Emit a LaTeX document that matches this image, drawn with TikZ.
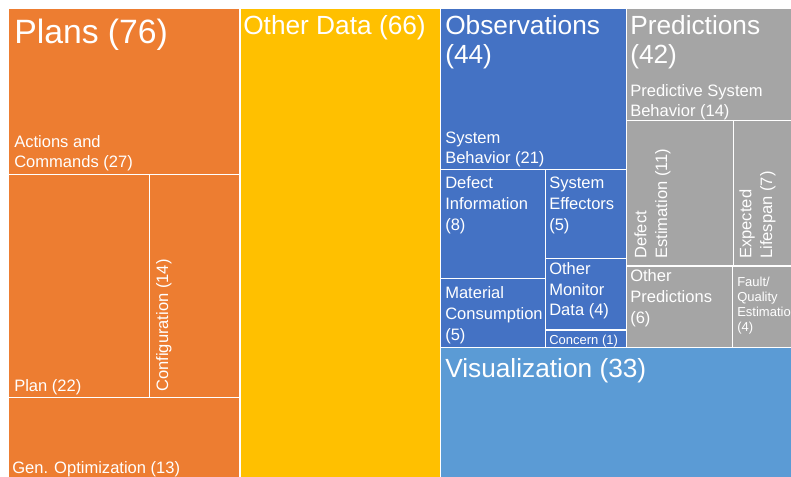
\documentclass[tikz,border=0pt]{standalone}
\usepackage{fontspec}
\setmainfont{Liberation Sans}
\definecolor{plansorange}{HTML}{ED7D31}
\definecolor{otheryellow}{HTML}{FFC000}
\definecolor{obsblue}{HTML}{4472C4}
\definecolor{predgray}{HTML}{A5A5A5}
\definecolor{visblue}{HTML}{5B9BD5}

\begin{document}
\begin{tikzpicture}[x=0.75pt,y=-0.75pt,
		cell/.style={draw=white, line width=1.1pt},
		every node/.style={text=white,
			inner sep=0pt,
			anchor=base west,
			align=left,
		},
		biglabel/.style={font=\fontsize{25.3}{30}\selectfont},
		toplabel/.style={font=\fontsize{19.7}{21.75}\selectfont},
		sublabel/.style={font=\fontsize{12.4}{15.5}\selectfont},
		smalllabel/.style={font=\fontsize{9.75}{11.25}\selectfont},
		]

		\useasboundingbox (0,0) rectangle (791,477);
		\fill[white] (0,0) rectangle (791,477);

		% Plans
		\filldraw[plansorange, cell] (8,8) rectangle (240,174.5);
		\filldraw[plansorange, cell] (8,174.5) rectangle (149.5,397.5);
		\filldraw[plansorange, cell] (149.5,174.5) rectangle (240,397.5);
		\filldraw[plansorange, cell] (8,397.5) rectangle (240,490);
		% Other Data
		\filldraw[otheryellow, cell] (240,8) rectangle (440.5,490);
		% Observations
		\filldraw[obsblue, cell] (440.5,8) rectangle (626.5,169.5);
		\filldraw[obsblue, cell] (440.5,169.5) rectangle (545.5,278.5);
		\filldraw[obsblue, cell] (440.5,278.5) rectangle (545.5,347.5);
		\filldraw[obsblue, cell] (545.5,169.5) rectangle (626.5,258.5);
		\filldraw[obsblue, cell] (545.5,258.5) rectangle (626.5,330);
		\filldraw[obsblue, cell] (545.5,330) rectangle (626.5,347.5);
		% Predictions
		\filldraw[predgray, cell] (626.5,8) rectangle (800,120.5);
		\filldraw[predgray, cell] (626.5,120.5) rectangle (733.5,266);
		\filldraw[predgray, cell] (733.5,120.5) rectangle (800,266);
		\filldraw[predgray, cell] (626.5,266) rectangle (732.5,347.5);
		\filldraw[predgray, cell] (732.5,266) rectangle (800,347.5);
		% Visualization
		\filldraw[visblue, cell] (440.5,347.5) rectangle (800,490);

		% labels sit on the baseline of their last line
		\node (plans) [biglabel] at (14,43.3) {Plans (76)};
		\node (actions) [sublabel] at (14,168) {Actions and\\Commands (27)};
		\node (plan) [sublabel] at (14,391.7) {Plan (22)};
		\node (config) [sublabel, rotate=90] at (168,392) {Configuration (14)};
		\node (genopt) [sublabel] at (12,473) {Gen. Optimization (13)};

		\node (otherdata) [toplabel] at (243,35) {Other Data (66)};

		\node (obs) [toplabel] at (445,64) {Observations\\(44)};
		\node (sysbeh) [sublabel] at (445,164) {System\\Behavior (21)};
		\node (defectinfo) [sublabel] at (445,230) {Defect\\Information\\(8)};
		\node (syseff) [sublabel] at (549,230) {System\\Effectors\\(5)};
		\node (material) [sublabel] at (445,340) {Material\\Consumption\\(5)};
		\node (othermon) [sublabel] at (549,315.7) {Other\\Monitor\\Data (4)};
		\node (concern) [smalllabel] at (549,344) {Concern (1)};

		\node (pred) [toplabel] at (630,64) {Predictions\\(42)};
		\node (predsys) [sublabel] at (630,116.7) {Predictive System\\Behavior (14)};
		\node (defectest) [sublabel, rotate=90] at (667,259) {Defect\\Estimation (11)};
		\node (lifespan) [sublabel, rotate=90] at (772,259) {Expected\\Lifespan (7)};
		\node (otherpred) [sublabel] at (630,323) {Other\\Predictions\\(6)};
		\node (fault) [smalllabel] at (737,331.7) {Fault/\\Quality\\Estimation\\(4)};

		\node (vis) [toplabel] at (445,377.3) {Visualization (33)};

	\end{tikzpicture}
\end{document}
